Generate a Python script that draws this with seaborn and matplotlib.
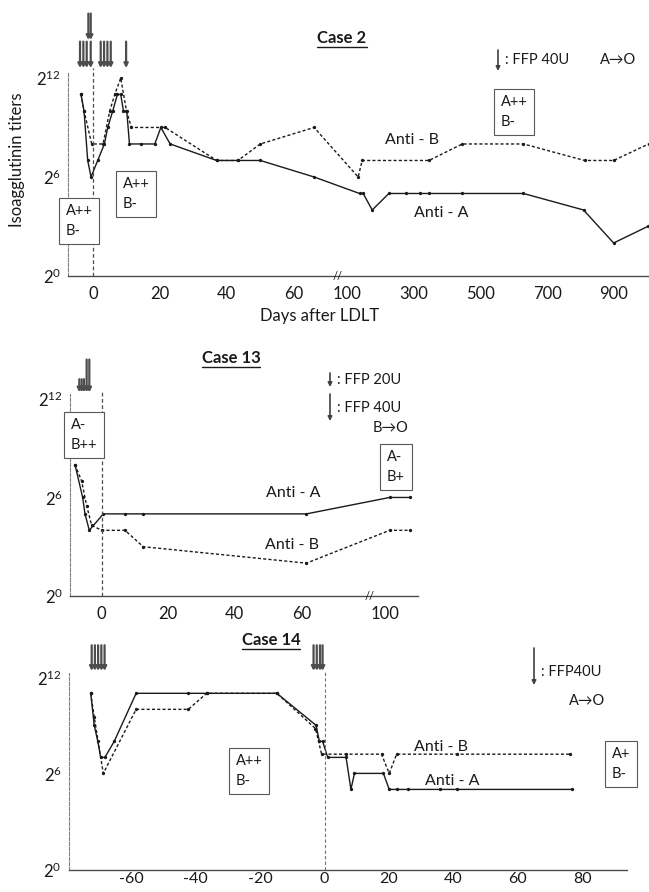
import numpy as np
import pandas as pd
import matplotlib
matplotlib.use("Agg")
import matplotlib.pyplot as plt
import seaborn as sns
from matplotlib.lines import Line2D

# ---- data (day after LDLT, log2 titer) ----
c2_a_day = [-3.6, -2.7, -1.6, -0.6, 1.4, 3.4, 4.4, 5.9, 7.3, 8.3, 9.1, 10.1, 10.9, 14.5, 18.5,
            20.3, 23.1, 37, 43.4, 50.1, 66.2, 138, 149, 176, 226, 276, 319, 346, 446, 629, 809, 899, 1001]
c2_a_exp = [11, 10, 7, 6, 7, 8, 9, 10, 11, 11, 10, 10, 8, 8, 8,
            9, 8, 7, 7, 7, 6, 5, 5, 4, 5, 5, 5, 5, 5, 5, 4, 2, 3]
c2_b_day = [-3.6, -2.7, -0.4, 3.0, 5.0, 6.5, 8.3, 10.0, 11.5, 21.6, 37, 43.4, 50.1, 66.2,
            134, 146, 346, 446, 629, 812, 899, 1004]
c2_b_exp = [11, 10, 8, 8, 10, 11, 12, 10, 9, 9, 7, 7, 8, 9,
            6, 7, 7, 8, 8, 7, 7, 8]
c2_ffp_low = [-3.9, -2.9, -1.9, -0.7, 2.3, 3.3, 4.3, 5.3, 9.9]
c2_ffp_high = [-1.4, -0.7]

c13_a_day = [-8, -5.7, -5, -3.7, 0.5, 7, 12.5, 61.5, 101.5, 107.5]
c13_a_exp = [8, 6, 5, 4, 5, 5, 5, 5, 6, 6]
c13_b_day = [-8, -6, -4.5, -3, 0, 7, 12.5, 61.5, 101.5, 107.5]
c13_b_exp = [8, 7, 5.5, 4.3, 4, 4, 3, 2, 4, 4]
c13_ffp_day = [-6.7, -6.0, -5.3, -4.5, -3.7]
c13_ffp_units = [20, 20, 20, 40, 40]

c14_a_day = [-72.6, -71.5, -70.4, -69.5, -68.2, -65.3, -58.5, -42.3, -36.6, -14.8, -2.6, -1.6,
             -0.6, 1.0, 6.7, 8.2, 9.3, 18.3, 20.1, 22.4, 26, 36, 41.2, 76.8]
c14_a_exp = [11, 9, 8, 7, 7, 8, 11, 11, 11, 11, 9, 8,
             8, 7, 7, 5, 6, 6, 5, 5, 5, 5, 5, 5]
c14_b_day = [-72.6, -71.5, -68.7, -58.5, -42.3, -36.6, -14.8, -2.8, -0.9, 6.7, 17.7, 20.1,
             22.4, 41.2, 76.2]
c14_b_exp = [11, 9.5, 6, 10, 10, 11, 11, 8.8, 7.2, 7.2, 7.2, 6, 7.2, 7.2, 7.2]
c14_ffp_day = [-72.3, -71.3, -70.3, -69.3, -68.3, -3.4, -2.4, -1.4, -0.6]

W, H = 649, 892
INK = "#1a1a1a"

sns.set_theme(style="white")
plt.rcParams["font.family"] = ["Lato", "DejaVu Sans"]
plt.rcParams["mathtext.fontset"] = "custom"
plt.rcParams["mathtext.rm"] = "Lato"

fig = plt.figure(figsize=(W / 100, H / 100), dpi=100)


def fxy(x, y):
    return x / W, 1 - y / H


def make_df(a_day, a_exp, b_day, b_exp):
    a = pd.DataFrame({"day": a_day, "titer": a_exp, "antibody": "Anti-A"})
    b = pd.DataFrame({"day": b_day, "titer": b_exp, "antibody": "Anti-B"})
    return pd.concat([a, b], ignore_index=True)


def setup(ax, df, xlim, major, minor, breaks=None, brk_day=None, xsize=12, xpad=7):
    if breaks is not None:
        xp, up = breaks
        ax.set_xscale("function", functions=(lambda d: np.interp(d, xp, up),
                                             lambda u: np.interp(u, up, xp)))
    sns.lineplot(data=df, x="day", y="titer", style="antibody",
                 dashes={"Anti-A": "", "Anti-B": (2.2, 1.6)},
                 markers={"Anti-A": "o", "Anti-B": "o"}, markersize=2.4, markeredgewidth=0,
                 color=INK, linewidth=1.0, estimator=None, sort=False, legend=False, ax=ax)
    ax.set_xlim(*xlim)
    ax.set_ylim(0, 12.3)
    ax.set_xticks(major)
    ax.set_xticklabels([str(m) for m in major])
    ax.set_xticks(minor, minor=True)
    ax.set_yticks([0, 6, 12])
    ax.set_yticklabels([r"$\mathregular{2^{0}}$", r"$\mathregular{2^{6}}$", r"$\mathregular{2^{12}}$"])
    ax.tick_params(axis="both", which="both", direction="in", length=4, width=0.8,
                   color="0.35", labelsize=12, labelcolor=INK)
    ax.tick_params(axis="x", pad=xpad, labelsize=xsize)
    ax.tick_params(axis="y", pad=5)
    ax.set_xlabel("")
    ax.set_ylabel("")
    for s in ["top", "right"]:
        ax.spines[s].set_visible(False)
    ax.spines["left"].set_color("0.5")
    ax.spines["left"].set_linestyle((0, (3, 1.5)))
    ax.spines["left"].set_linewidth(0.8)
    ax.spines["bottom"].set_color("0.3")
    ax.spines["bottom"].set_linewidth(1.0)
    if brk_day is not None:
        ax.text(brk_day, 0, "//", fontsize=8, ha="center", va="center", color=INK,
                clip_on=False, zorder=6)


def ffp(ax, day, y0, y1):
    ax.annotate("", xy=(day, y0), xytext=(day, y1), annotation_clip=False,
                arrowprops=dict(arrowstyle="-|>", lw=1.6, color="0.3",
                                mutation_scale=6, shrinkA=0, shrinkB=0))


def legend_arrow(x, y0, y1):
    fig.add_artist(matplotlib.patches.FancyArrowPatch(
        fxy(x, y0), fxy(x, y1), transform=fig.transFigure, arrowstyle="-|>",
        lw=1.2, color="0.25", mutation_scale=6, shrinkA=0, shrinkB=0))


def box(x, y, s):
    fig.text(*fxy(x, y), s, fontsize=10.5, ha="left", va="center", linespacing=1.5,
             color=INK, zorder=10,
             bbox=dict(boxstyle="square,pad=0.45", fc="white", ec="0.35", lw=0.8))


def label(x, y, s, size=11.5, **kw):
    return fig.text(*fxy(x, y), s, fontsize=size, ha="center", va="center", color=INK, **kw)


titles = []

# ---- Case 2 ----
ax1 = fig.add_axes([68 / W, 1 - 276 / H, 581 / W, 203 / H])
setup(ax1, make_df(c2_a_day, c2_a_exp, c2_b_day, c2_b_exp), (-7.5, 1005),
      [0, 20, 40, 60, 100, 300, 500, 700, 900], [10, 30, 50, 70, 200, 400, 600, 800, 1000],
      breaks=([-1000, 72, 100, 5000], [-1000, 72, 76, 566]), brk_day=80)
ax1.plot([0, 0], [0, 12.6], ls=(0, (3, 2)), color="0.3", lw=0.9, clip_on=False)
for d in c2_ffp_low:
    ffp(ax1, d, 12.6, 14.2)
for d in c2_ffp_high:
    ffp(ax1, d, 14.3, 15.9)
titles.append(label(342, 38, "Case 2", size=12, fontweight="bold"))
legend_arrow(498, 50, 71)
fig.text(*fxy(505, 60), ": FFP 40U", fontsize=10.5, ha="left", va="center", color=INK)
fig.text(*fxy(600, 60), "A→O", fontsize=10.5, ha="left", va="center", color=INK)
box(66, 221, "A++\nB-")
box(123, 194, "A++\nB-")
box(501, 112, "A++\nB-")
label(412, 140, "Anti - B")
label(441, 213, "Anti - A")
label(320, 316, "Days after LDLT", size=12)
label(17, 160, "Isoagglutinin titers", size=12, rotation=90)

# ---- Case 13 ----
ax2 = fig.add_axes([70 / W, 1 - 596 / H, 348 / W, 202 / H])
setup(ax2, make_df(c13_a_day, c13_a_exp, c13_b_day, c13_b_exp), (-9.5, 110),
      [0, 20, 40, 60, 100], [10, 30, 50, 70, 110],
      breaks=([-1000, 79, 100, 5000], [-1000, 79, 85, 4985]), brk_day=84)
ax2.plot([0, 0], [0, 12.4], ls=(0, (3, 2)), color="0.3", lw=0.9, clip_on=False)
for d, u in zip(c13_ffp_day, c13_ffp_units):
    ffp(ax2, d, 12.4, 13.2 if u == 20 else 14.4)
titles.append(label(231, 358, "Case 13", size=12, fontweight="bold"))
legend_arrow(330, 373, 387)
fig.text(*fxy(337, 380), ": FFP 20U", fontsize=10.5, ha="left", va="center", color=INK)
legend_arrow(330, 394, 421)
fig.text(*fxy(337, 408), ": FFP 40U", fontsize=10.5, ha="left", va="center", color=INK)
fig.text(*fxy(408, 428), "B→O", fontsize=10.5, ha="right", va="center", color=INK)
box(71, 435, "A-\nB++")
box(387, 467, "A-\nB+")
label(293, 493, "Anti - A")
label(292, 545, "Anti - B")

# ---- Case 14 ----
ax3 = fig.add_axes([68.5 / W, 1 - 869.5 / H, 558.7 / W, 197 / H])
setup(ax3, make_df(c14_a_day, c14_a_exp, c14_b_day, c14_b_exp), (-79.5, 94),
      [-60, -40, -20, 0, 20, 40, 60, 80], [-70, -50, -30, -10, 10, 30, 50, 70, 90],
      xsize=11.5, xpad=2)
ax3.plot([0, 0], [0, 12.4], ls=(0, (3, 2)), color="0.45", lw=0.8, clip_on=False)
for d in c14_ffp_day:
    ffp(ax3, d, 12.4, 14.0)
titles.append(label(271, 640, "Case 14", size=12, fontweight="bold"))
legend_arrow(534, 648, 685)
fig.text(*fxy(541, 672), ": FFP40U", fontsize=10.5, ha="left", va="center", color=INK)
label(587, 701, "A→O", size=10.5)
box(236, 771, "A++\nB-")
box(612, 764, "A+\nB-")
label(441, 747, "Anti - B")
label(452, 781, "Anti - A")

# underline the case titles
fig.canvas.draw()
inv = fig.transFigure.inverted()
for t in titles:
    bb = t.get_window_extent()
    (x0, y0), (x1, _) = inv.transform([(bb.x0, bb.y0 - 0.5), (bb.x1, bb.y0)])
    fig.add_artist(Line2D([x0, x1], [y0, y0], transform=fig.transFigure, color=INK, lw=1.0))

fig.savefig("out.png", dpi=100)
